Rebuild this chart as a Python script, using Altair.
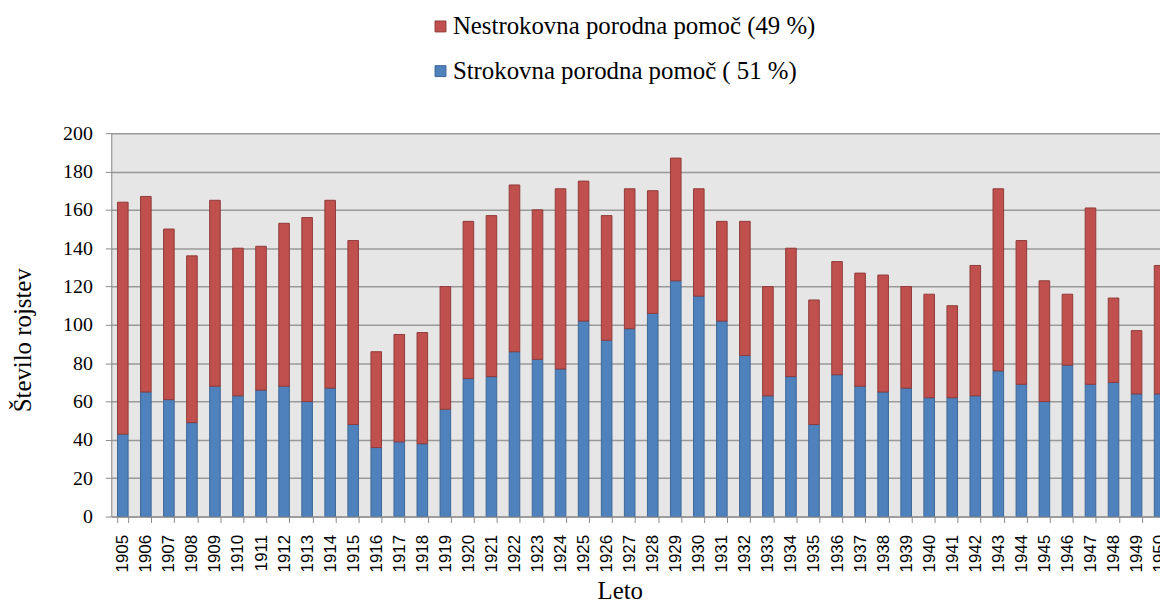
import altair as alt
import pandas as pd

years = ["1905", "1906", "1907", "1908", "1909", "1910", "1911", "1912", "1913", "1914",
         "1915", "1916", "1917", "1918", "1919", "1920", "1921", "1922", "1923", "1924",
         "1925", "1926", "1927", "1928", "1929", "1930", "1931", "1932", "1933", "1934",
         "1935", "1936", "1937", "1938", "1939", "1940", "1941", "1942", "1943", "1944",
         "1945", "1946", "1947", "1948", "1949", "1950"]

strokovna = [43, 65, 61, 49, 68, 63, 66, 68, 60, 67,
             48, 36, 39, 38, 56, 72, 73, 86, 82, 77,
             102, 92, 98, 106, 123, 115, 102, 84, 63, 73,
             48, 74, 68, 65, 67, 62, 62, 63, 76, 69,
             60, 79, 69, 70, 64, 64]

nestrokovna = [121, 102, 89, 87, 97, 77, 75, 85, 96, 98,
               96, 50, 56, 58, 64, 82, 84, 87, 78, 94,
               73, 65, 73, 64, 64, 56, 52, 70, 57, 67,
               65, 59, 59, 61, 53, 54, 48, 68, 95, 75,
               63, 37, 92, 44, 33, 67]

series = ["Nestrokovna porodna pomoč (49 %)", "Strokovna porodna pomoč ( 51 %)"]
fill_colors = ["#c0504d", "#4f81bd"]
stroke_colors = ["#8f3b39", "#3d6796"]
y_ticks = [0, 20, 40, 60, 80, 100, 120, 140, 160, 180, 200]

rows = []
for yr, s, n in zip(years, strokovna, nestrokovna):
    rows.append({"Leto": yr, "serija": series[1], "vrednost": s, "red": 0})
    rows.append({"Leto": yr, "serija": series[0], "vrednost": n, "red": 1})
df = pd.DataFrame(rows)

step = 23.2

chart = alt.Chart(df).mark_bar(strokeWidth=1, clip=True).encode(
    x=alt.X(
        "Leto:N",
        sort=years,
        scale=alt.Scale(range=[0, step * len(years)], paddingInner=0.54, paddingOuter=0.27),
        axis=alt.Axis(
            title="Leto",
            labelAngle=270,
            tickBand="extent",
            labelFont="Liberation Sans",
            labelFontSize=17,
            labelColor="#000000",
            labelPadding=12,
            tickSize=6,
            tickColor="#8a8a8a",
            domainColor="#8a8a8a",
            grid=False,
            titleFont="Liberation Serif",
            titleFontSize=25,
            titleFontWeight="normal",
            titleColor="#000000",
            titleX=512,
            titleY=83,
            titleAlign="center",
            titleBaseline="alphabetic",
        ),
    ),
    y=alt.Y(
        "vrednost:Q",
        stack="zero",
        scale=alt.Scale(domain=[0, 200], nice=False),
        axis=alt.Axis(
            values=y_ticks,
            title="Število rojstev",
            labelFont="Liberation Serif",
            labelFontSize=20,
            labelColor="#000000",
            labelPadding=13,
            tickSize=6,
            tickColor="#8a8a8a",
            domainColor="#8a8a8a",
            grid=True,
            gridColor="#999999",
            gridWidth=1.5,
            titleFont="Liberation Serif",
            titleFontSize=25,
            titleFontWeight="normal",
            titleColor="#000000",
            titleAngle=270,
            titleX=-89,
            titleY=208,
            titleAlign="center",
            titleBaseline="middle",
        ),
    ),
    color=alt.Color(
        "serija:N",
        scale=alt.Scale(domain=series, range=fill_colors),
        legend=alt.Legend(
            title=None,
            orient="none",
            legendX=319,
            legendY=-120,
            labelFont="Liberation Serif",
            labelFontSize=25,
            labelColor="#000000",
            labelLimit=600,
            symbolType="square",
            symbolSize=121,
            symbolStrokeWidth=1,
            labelOffset=0,
            rowPadding=19,
        ),
    ),
    stroke=alt.Stroke(
        "serija:N",
        scale=alt.Scale(domain=series, range=stroke_colors),
        legend=None,
    ),
    order=alt.Order("red:Q", sort="ascending"),
).properties(
    width=1056,
    height=386,
    autosize=alt.AutoSizeParams(type="none"),
    padding={"left": 104, "top": 124, "right": 0, "bottom": 87},
).configure_view(
    fill="#e6e6e6",
    strokeWidth=0,
)

chart.save("out.html", embed_options={"renderer": "svg", "actions": False})
